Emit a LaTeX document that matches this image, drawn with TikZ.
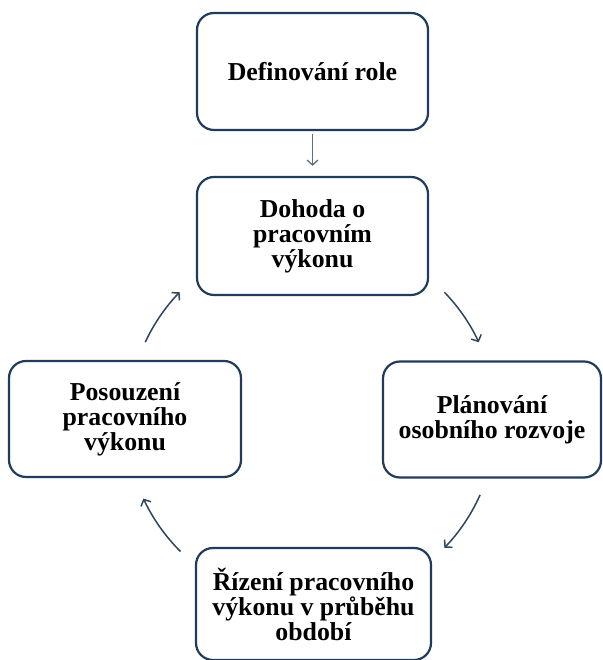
\documentclass[tikz,border=0pt]{standalone}
\usepackage{fontspec}
\setmainfont{Liberation Serif}
\usetikzlibrary{arrows.meta,calc}
\definecolor{boxline}{HTML}{213C5A}
\definecolor{cycarrow}{HTML}{2E4560}
\definecolor{toparrow}{HTML}{5B6E84}
\tikzset{
  stagebox/.style={draw=boxline, line width=2.2pt, rounded corners=17pt, fill=white,
    align=center, inner sep=0pt, font=\fontsize{25.8}{25}\selectfont\bfseries},
  cyc/.style={draw=cycarrow, line width=1.5pt, -{Straight Barb[length=5pt,width=11pt]}},
  straightarr/.style={draw=toparrow, line width=1.3pt, -{Straight Barb[length=5pt,width=11pt]}}
}
\begin{document}
\begin{tikzpicture}[x=1pt,y=1pt]
\useasboundingbox (0,0) rectangle (602,660);
\node[stagebox, minimum width=231pt, minimum height=117pt] (def) at (312.5,588.5) {Definování role};
\node[stagebox, minimum width=231pt, minimum height=118pt] (doh) at (312.5,424) {Dohoda o\\pracovním\\výkonu};
\node[stagebox, minimum width=232pt, minimum height=116pt] (pos) at (125,241) {Posouzení\\pracovního\\výkonu};
\node[stagebox, minimum width=218pt, minimum height=116pt] (pla) at (492,240.5) {Plánování\\osobního rozvoje};
\node[stagebox, minimum width=235pt, minimum height=112pt] (riz) at (313.5,56) {Řízení pracovního\\výkonu v průběhu\\období};
\draw[straightarr, shorten <=3pt, shorten >=10pt] (def.south) -- (doh.north);
\coordinate (c) at (312,240);
\coordinate (a1) at ($(c)+(44:184)$);
\coordinate (a2) at ($(c)+(-24:184)$);
\coordinate (a3) at ($(c)+(225:186)$);
\coordinate (a4) at ($(c)+(155:184)$);
\draw[cyc] (a1) arc[start angle=44, end angle=25, radius=184];
\draw[cyc] (a2) arc[start angle=-24, end angle=-44, radius=184];
\draw[cyc] (a3) arc[start angle=225, end angle=205, radius=186];
\draw[cyc] (a4) arc[start angle=155, end angle=136, radius=184];
\end{tikzpicture}
\end{document}
